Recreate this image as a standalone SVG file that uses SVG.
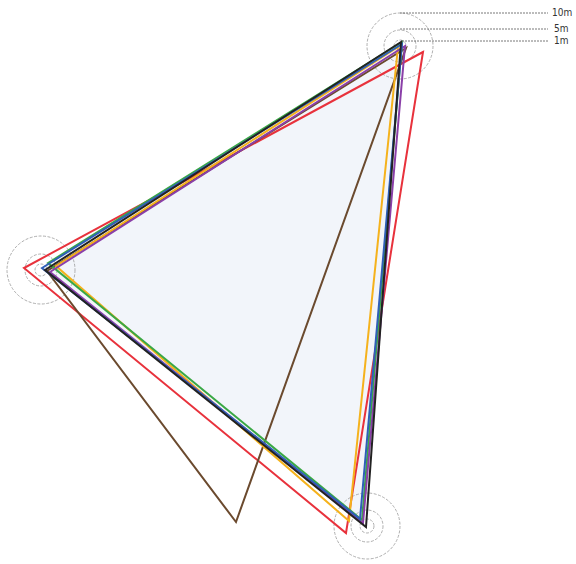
<svg xmlns="http://www.w3.org/2000/svg" width="576" height="564" viewBox="0 0 576 564">
<style>
.ring{fill:none;stroke:#9a9a9a;stroke-width:0.8;stroke-dasharray:3 1.5}
.lead{stroke:#6a6a6a;stroke-width:0.9;stroke-dasharray:2 1}
.tri{fill:none;stroke-width:2;stroke-linejoin:miter}
.lbl{font-family:"DejaVu Sans Condensed","DejaVu Sans",sans-serif;font-size:10px;fill:#333}
</style>
<rect width="576" height="564" fill="#fff"/>
<g id="area"><polygon points="44,268 402,44 362,522" fill="#f2f5fa"/></g>
<g id="rings">
<g id="top-rings"><circle class="ring" cx="400" cy="46" r="33"/><circle class="ring" cx="400" cy="46" r="16"/><circle class="ring" cx="400" cy="46" r="6"/></g>
<g id="left-rings"><circle class="ring" cx="41" cy="270" r="34"/><circle class="ring" cx="41" cy="270" r="16"/><circle class="ring" cx="41" cy="270" r="6"/></g>
<g id="bottom-rings"><circle class="ring" cx="367" cy="526" r="33"/><circle class="ring" cx="367" cy="526" r="16"/><circle class="ring" cx="367" cy="526" r="7"/></g>
</g>
<g id="triangles">
<polygon id="red" class="tri" stroke="#e8323c" points="423,52 24,268 346,533"/>
<polygon id="brown" class="tri" stroke="#6b4a2e" stroke-width="1.6" points="406,48 47,271 236,522"/>
<polygon id="orange" class="tri" stroke="#f5b21c" points="398,47 56,266 349,521"/>
<polygon id="green" class="tri" stroke="#3aa845" points="402,42 48,263 362,520"/>
<polygon id="purple" class="tri" stroke="#8a3fa8" points="405,46 50,272 363,523"/>
<polygon id="blue" class="tri" stroke="#2f5fb8" points="402,44 42,268 360,519"/>
<polygon id="black" class="tri" stroke="#222" stroke-width="1.6" points="401,42 45,270 366,527"/>
</g>
<g id="connectors">
<line class="lead" x1="400" y1="13" x2="548" y2="13"/>
<line class="lead" x1="400" y1="29" x2="548" y2="29"/>
<line class="lead" x1="402" y1="41" x2="548" y2="41"/>
</g>
<g id="labels">
<text class="lbl" x="552" y="16">10m</text>
<text class="lbl" x="554" y="32">5m</text>
<text class="lbl" x="554" y="44">1m</text>
</g>
</svg>
